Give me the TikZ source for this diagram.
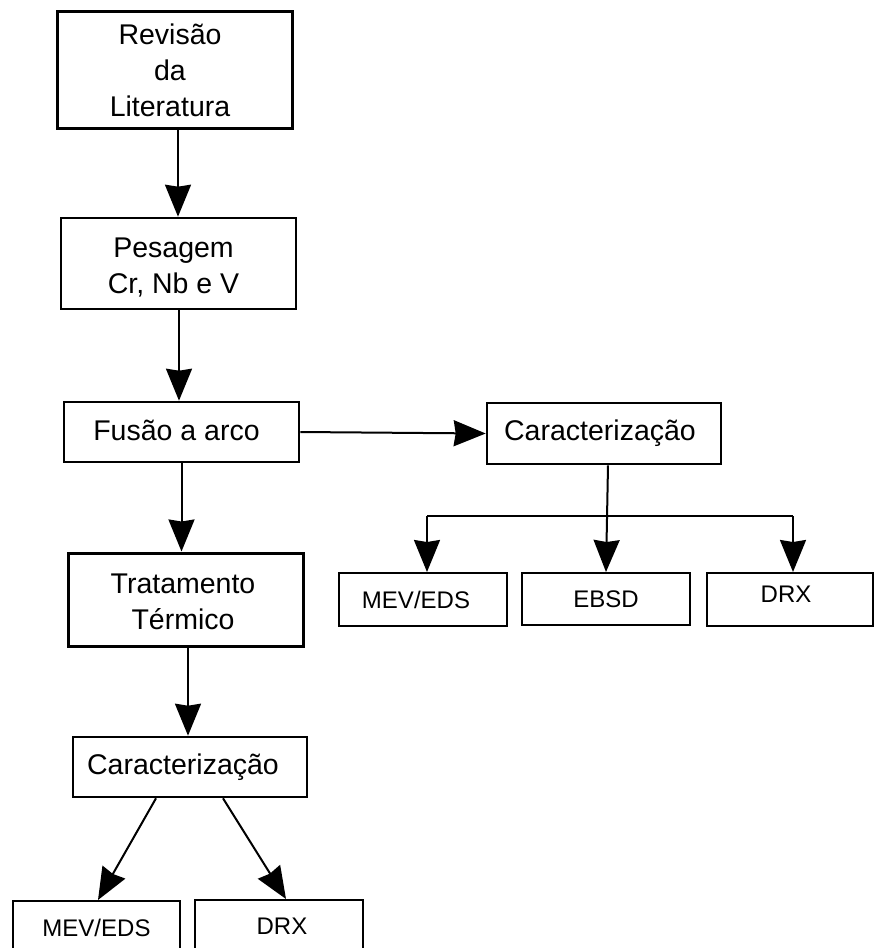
\documentclass[tikz,border=0pt]{standalone}
\usepackage{fontspec}
\setmainfont{Liberation Sans}
\usetikzlibrary{arrows.meta}
\newcommand{\shiftedlines}[3]{\hbox{\raisebox{#2}[\height][\depth]{\begin{tabular}{@{}c@{}}#3\end{tabular}}\kern#1}}
\newcommand{\lift}[2]{\raisebox{#1}[\height][\depth]{#2}}
\begin{document}
\begin{tikzpicture}[x=1pt,y=-1pt,
  bigbox/.style={draw,line width=2.6pt,rectangle,inner sep=0pt,align=center,
    font=\fontsize{28.5}{36}\selectfont},
  smallbox/.style={draw,line width=2pt,rectangle,inner sep=0pt,align=center,
    font=\fontsize{24}{30}\selectfont},
  arr/.style={line width=2pt,-{Stealth[length=32pt,width=26pt,inset=2pt]}},
  conn/.style={line width=2pt}]
\useasboundingbox (0,0) rectangle (874,948);
\clip (0,0) rectangle (874,948);
\fill[white] (0,0) rectangle (874,948);

% left column
\node[bigbox,line width=3pt,minimum width=235pt,minimum height=117pt] (rev) at (174.5,69.5) {\shiftedlines{9pt}{-4pt}{Revisão\\da\\Literatura}};
\node[bigbox,minimum width=235pt,minimum height=91pt] (pes) at (178.5,263.5) {\shiftedlines{10pt}{-5pt}{Pesagem\\Cr, Nb e V}};
\node[bigbox,minimum width=235pt,minimum height=60pt] (fus) at (181.5,432) {\lift{2pt}{Fusão a arco}\kern10pt};
\node[bigbox,line width=3pt,minimum width=235pt,minimum height=93pt] (tra) at (185.5,599.5) {\shiftedlines{5pt}{-5pt}{Tratamento\\Térmico}};
\node[bigbox,minimum width=234pt,minimum height=60pt] (carb) at (190,767) {Caracterização\kern14pt};
\node[smallbox,minimum width=167pt,minimum height=54pt] (mevb) at (96.5,928) {MEV/EDS};
\node[smallbox,minimum width=168pt,minimum height=52pt] (drxb) at (279,926) {DRX\kern-6pt};

% right branch
\node[bigbox,minimum width=234pt,minimum height=61pt] (cara) at (604,433.5) {Caracterização\kern8pt};
\node[smallbox,minimum width=168pt,minimum height=53pt] (meva) at (423,599.5) {MEV/EDS\kern14pt};
\node[smallbox,minimum width=168pt,minimum height=52pt] (ebsd) at (606,599) {EBSD};
\node[smallbox,minimum width=166pt,minimum height=53pt] (drxa) at (790,599.5) {\lift{5pt}{DRX}\kern8pt};

% connectors
\draw[arr] ([xshift=3.5pt]rev.south) -- ([xshift=-0.5pt]pes.north);
\draw[arr] ([xshift=0.5pt]pes.south) -- ([xshift=-2.5pt]fus.north);
\draw[arr] (fus.south) -- ([xshift=-4pt]tra.north);
\draw[arr] ([xshift=2.5pt]tra.south) -- ([xshift=-2pt]carb.north);
\draw[arr] ([xshift=-34pt]carb.south) -- ([xshift=1.5pt]mevb.north);
\draw[arr] ([xshift=33pt]carb.south) -- ([xshift=7pt]drxb.north);

\draw[arr] (fus.east) -- (cara.west);
\draw[arr] ([xshift=4pt]cara.south) -- (ebsd.north);
\coordinate (bl) at ([xshift=4pt,yshift=56pt]meva.north);
\coordinate (brt) at ([xshift=3pt,yshift=56pt]drxa.north);
\draw[conn] (bl) -- (brt);
\draw[arr] (bl) -- ([xshift=4pt]meva.north);
\draw[arr] (brt) -- ([xshift=3pt]drxa.north);
\end{tikzpicture}
\end{document}
